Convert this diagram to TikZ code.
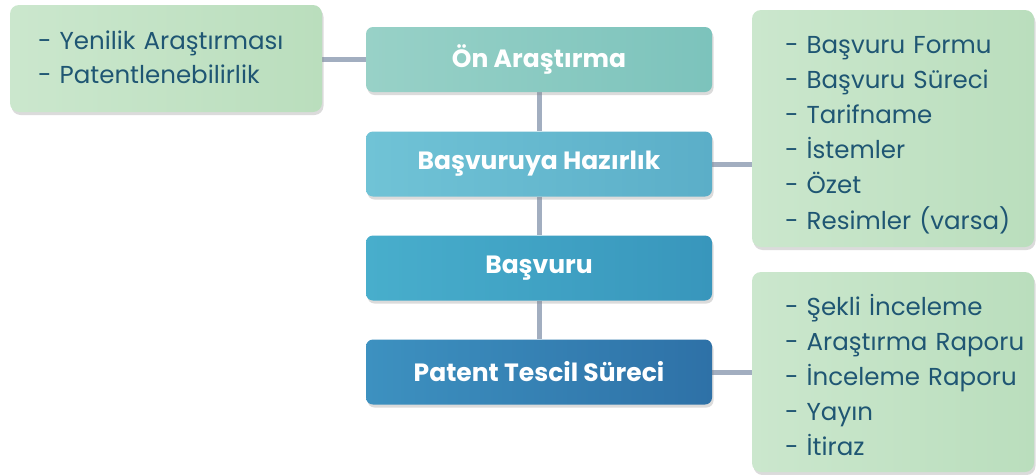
\documentclass[tikz,border=0pt]{standalone}
\usepackage{fontspec}
\setmainfont{Poppins}
\usetikzlibrary{shadows,backgrounds}
\definecolor{linkc}{HTML}{A2AEC0}
\definecolor{notec}{HTML}{1F5673}
\definecolor{noteL}{HTML}{CBE7CD}
\definecolor{noteR}{HTML}{BADEBD}
\definecolor{aL}{HTML}{98D1C7}
\definecolor{aR}{HTML}{7CC3BC}
\definecolor{bL}{HTML}{70C3D6}
\definecolor{bR}{HTML}{5BAEC8}
\definecolor{cL}{HTML}{48AECC}
\definecolor{cR}{HTML}{3896BC}
\definecolor{dL}{HTML}{3D91C0}
\definecolor{dR}{HTML}{2E71A7}
% a note's list of lines, lowered by the given amount without changing its size
\newcommand\notelist[2]{\raisebox{-#1}[\height][\depth]{\begin{tabular}{@{}l@{}}#2\end{tabular}}}
\tikzset{
  boxshadow/.style={drop shadow={opacity=0.28, shadow xshift=1.5pt, shadow yshift=-3pt}},
  stagebox/.style={rounded corners=7pt, boxshadow, minimum width=346pt, minimum height=65pt,
    inner sep=0pt, text=white, font=\fontsize{25}{30}\selectfont\bfseries},
  notebox/.style={rounded corners=9pt, boxshadow, left color=noteL, right color=noteR,
    text=notec, align=left, inner ysep=0pt, font=\fontsize{24.5}{35.2}\selectfont},
  link/.style={draw=linkc, line width=5pt}
}
\begin{document}
\begin{tikzpicture}[x=1pt,y=-1pt]
\useasboundingbox (0,0) rectangle (1036,474);

% main process stages
\node[stagebox, left color=aL, right color=aR] (s1) at (539,59.5) {\raisebox{-1.5pt}{Ön Araştırma}};
\node[stagebox, left color=bL, right color=bR] (s2) at (539,164) {Başvuruya Hazırlık};
\node[stagebox, left color=cL, right color=cR] (s3) at (539,268) {Başvuru};
\node[stagebox, left color=dL, right color=dR] (s4) at (539,372) {Patent Tescil Süreci};

% notes attached to stages
\node[notebox, text width=256pt, inner xsep=28pt, minimum height=107pt] (n1) at (166,58.5)
  {\notelist{1pt}{- Yenilik Araştırması\\[-2pt]- Patentlenebilirlik}};
\node[notebox, text width=216pt, inner xsep=33pt, minimum height=237pt] (n2) at (893,128.5)
  {\notelist{5.5pt}{- Başvuru Formu\\- Başvuru Süreci\\- Tarifname\\- İstemler\\- Özet\\- Resimler (varsa)}};
\node[notebox, text width=216pt, inner xsep=33pt, minimum height=200pt] (n3) at (893,372)
  {\notelist{6.5pt}{- Şekli İnceleme\\- Araştırma Raporu\\- İnceleme Raporu\\- Yayın\\- İtiraz}};

% page and connectors behind the boxes
\begin{scope}[on background layer]
\fill[white] (0,0) rectangle (1036,474);
\draw[link] (s1.south) -- (s2.north);
\draw[link] (s2.south) -- (s3.north);
\draw[link] (s3.south) -- (s4.north);
\draw[link] (n1.east |- s1.west) -- (s1.west);
\draw[link] (s2.east) -- (n2.west |- s2.east);
\draw[link] (s4.east) -- (n3.west |- s4.east);
\end{scope}
\end{tikzpicture}
\end{document}
